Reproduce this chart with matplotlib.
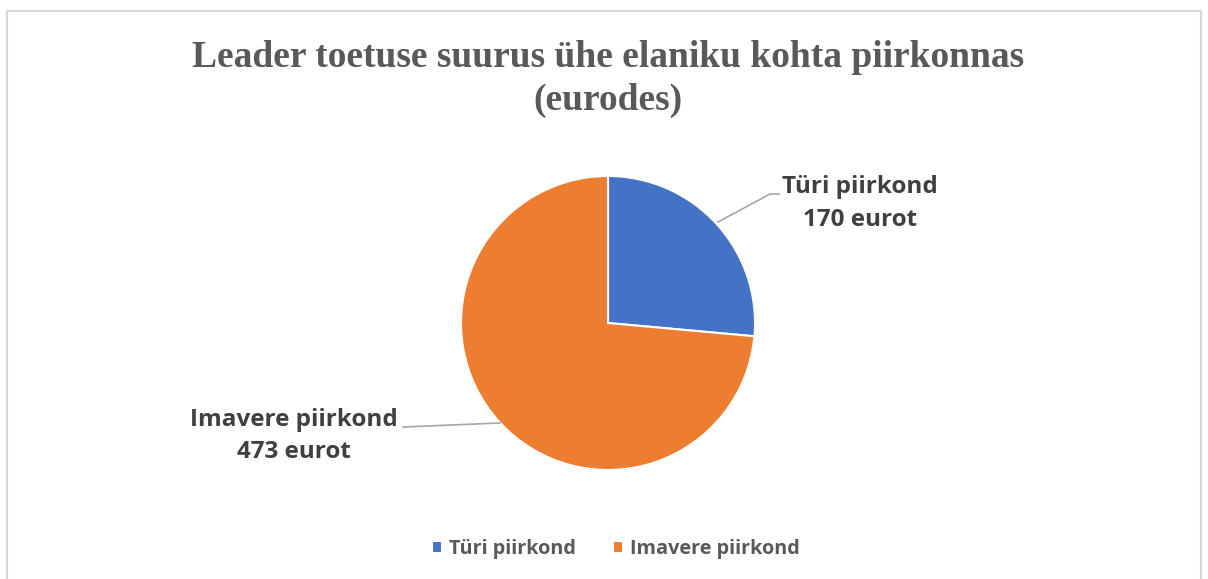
import matplotlib.pyplot as plt
from matplotlib.patches import Rectangle

# data
regions = ['Türi piirkond', 'Imavere piirkond']
values = [170, 473]
colors = ['#4472C4', '#ED7D31']
unit = 'eurot'

W, H = 1208, 579
fig = plt.figure(figsize=(W / 100, H / 100), dpi=100)


def fx(px):
    return px / W


def fy(py):
    return 1 - py / H


# chart border
fig.patches.append(Rectangle((fx(7), fy(H + 5)), fx(1201) - fx(7), fy(11) - fy(H + 5),
                             transform=fig.transFigure, fill=False,
                             edgecolor='#d9d9d9', linewidth=1.5))

# title
fig.text(fx(608), fy(79), 'Leader toetuse suurus ühe elaniku kohta piirkonnas\n(eurodes)',
         ha='center', va='center', fontsize=27, fontweight='bold',
         family='Liberation Serif', color='#595959', linespacing=1.27)

# pie
cx, cy, r = 608, 323, 147
ax = fig.add_axes([fx(cx - r), fy(cy + r), fx(2 * r), fy(cy - r) - fy(cy + r)])
wedges, _ = ax.pie(values, colors=colors, startangle=90, counterclock=False,
                   radius=1, wedgeprops=dict(edgecolor='white', linewidth=1.5))
ax.set_xlim(-1, 1)
ax.set_ylim(-1, 1)
ax.set_aspect('equal')
ax.axis('off')

# labels with leader lines
lab_font = dict(fontsize=17.5, fontweight='bold', family='Open Sans', color='#404040')
fig.text(fx(860), fy(204), f'{regions[0]}\n{values[0]} {unit}',
         ha='center', va='center', linespacing=1.5, **lab_font)
fig.add_artist(plt.Line2D([fx(718), fx(770), fx(779)], [fy(222), fy(194), fy(194)],
                          transform=fig.transFigure, color='#a6a6a6', linewidth=1.2))
fig.text(fx(294), fy(436), f'{regions[1]}\n{values[1]} {unit}',
         ha='center', va='center', linespacing=1.5, **lab_font)
fig.add_artist(plt.Line2D([fx(500), fx(403)], [fy(423), fy(427)],
                          transform=fig.transFigure, color='#a6a6a6', linewidth=1.2))

# legend
fig.legend(wedges, regions, loc='center', bbox_to_anchor=(fx(616), fy(549)),
           ncol=2, frameon=False, handlelength=0.5, handleheight=0.5,
           handletextpad=0.35, columnspacing=1.85,
           prop=dict(size=14.3, weight='bold', family='Open Sans'),
           labelcolor='#595959')

fig.savefig('out.png', dpi=100)
